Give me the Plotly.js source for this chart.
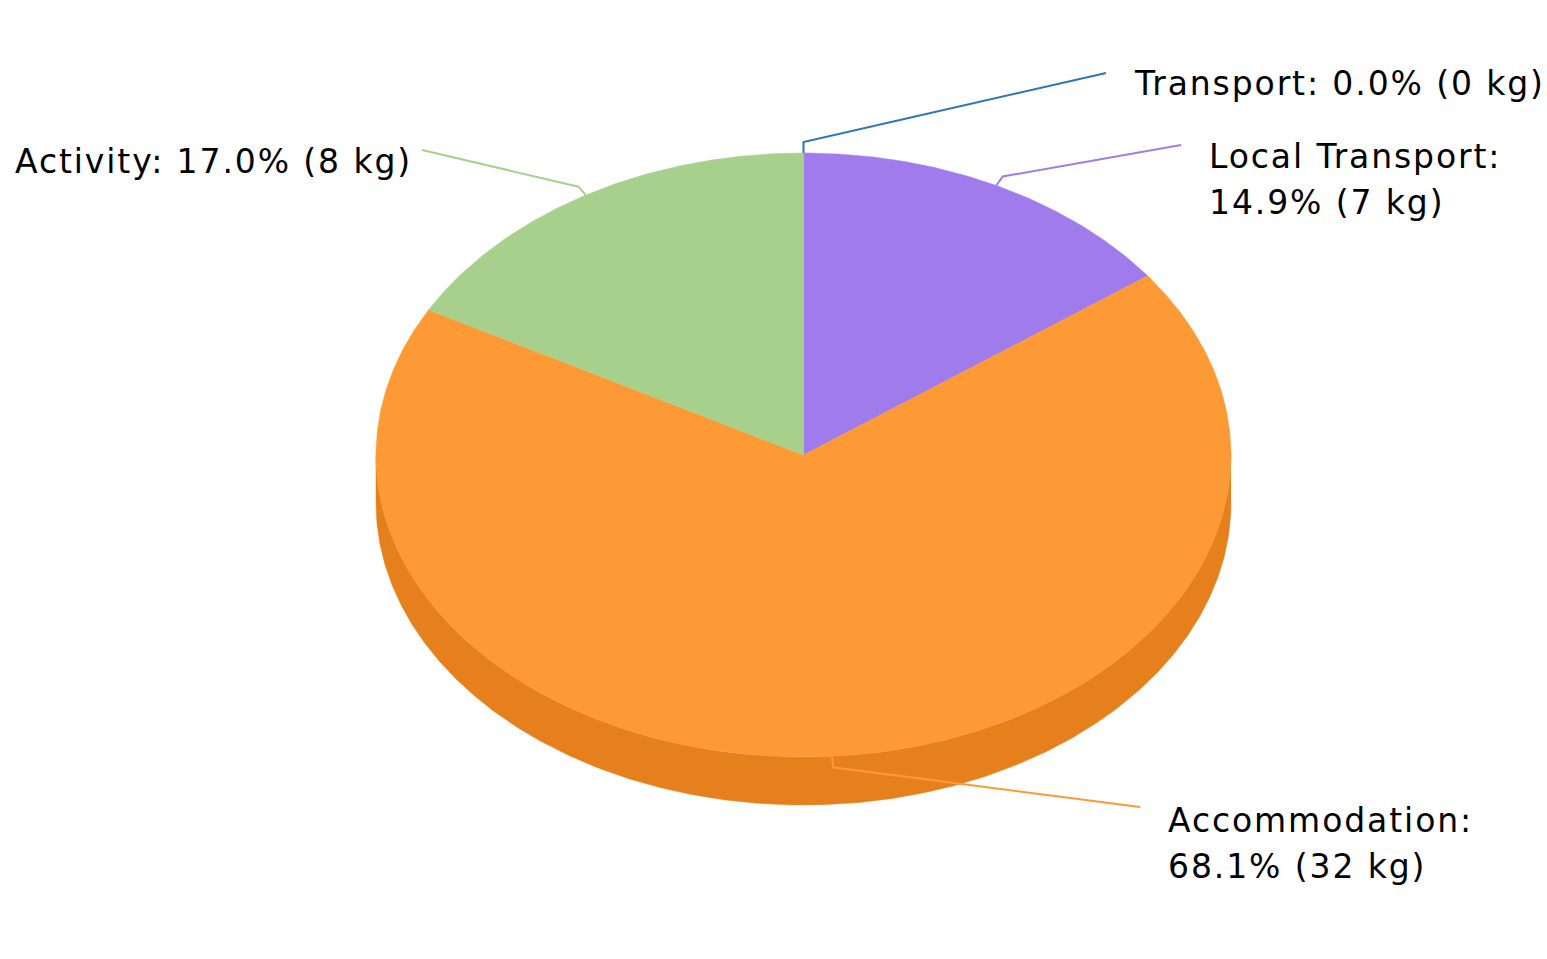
<!DOCTYPE html>
<html><head><meta charset="utf-8">
<script src="https://cdn.plot.ly/plotly-3.0.1.min.js"></script>
<style>html,body{margin:0;padding:0;background:#fff;} .annotation-text{letter-spacing:1.9px;}</style>
</head><body><div id="chart" style="width:1547px;height:959px;"></div>
<script>
// ---- data ----
const categories = ['Transport', 'Local Transport', 'Accommodation', 'Activity'];
const values = [0, 7, 32, 8];
const unit = 'kg';

// ---- style ----
const topColors  = ['#2e75b6', '#9f7bec', '#fe9a35', '#a8d08d'];
const sideColors = ['#2a69a4', '#8c6cd6', '#e5801d', '#94bb7b'];
const cx = 803.5, cy = 455, rx = 427.5, ry = 302, depth = 48;
// label layout (positions only)
const labelLayout = [
  {end: [1106, 73],  text: [1132, 83],  wrap: false},
  {end: [1181, 145], text: [1207, 156], wrap: true},
  {end: [1140, 807], text: [1166, 820], wrap: true},
  {end: [422, 150],  text: [13, 161],   wrap: false}
];
const lineGap = 46;

function pt(angDeg, dy) {
  const a = angDeg * Math.PI / 180;
  return [cx + rx * Math.sin(a), cy - ry * Math.cos(a) + (dy || 0)];
}
function arc(a0, a1, dy) {
  const n = Math.max(2, Math.ceil(Math.abs(a1 - a0) / 0.5));
  const xs = [], ys = [];
  for (let i = 0; i <= n; i++) {
    const p = pt(a0 + (a1 - a0) * i / n, dy);
    xs.push(p[0]); ys.push(p[1]);
  }
  return [xs, ys];
}

const total = values.reduce((s, v) => s + v, 0);
const traces = [];
const annotations = [];
let start = 0;
const ranges = values.map(v => { const a0 = start; start += v / total * 360; return [a0, start]; });

// side walls (front half only)
ranges.forEach((r, i) => {
  const s = Math.max(r[0], 90), e = Math.min(r[1], 270);
  if (e <= s) return;
  const top = arc(s, e, 0), bot = arc(e, s, depth);
  traces.push({type: 'scatter', mode: 'lines', x: top[0].concat(bot[0]), y: top[1].concat(bot[1]),
    fill: 'toself', fillcolor: sideColors[i], line: {width: 0.5, color: sideColors[i]}, hoverinfo: 'skip', showlegend: false});
});
// top faces
ranges.forEach((r, i) => {
  if (r[1] - r[0] <= 0) return;
  const a = arc(r[0], r[1], 0);
  traces.push({type: 'scatter', mode: 'lines', x: [cx].concat(a[0], [cx]), y: [cy].concat(a[1], [cy]),
    fill: 'toself', fillcolor: topColors[i], line: {width: 0.5, color: topColors[i]}, hoverinfo: 'skip', showlegend: false});
});
// connectors & labels
ranges.forEach((r, i) => {
  const mid = (r[0] + r[1]) / 2;
  const p0 = pt(mid, 0);
  const dx = p0[0] - cx, dy = p0[1] - cy, len = Math.hypot(dx, dy);
  const p1 = [p0[0] + dx / len * 11, p0[1] + dy / len * 11];
  const L = labelLayout[i];
  traces.push({type: 'scatter', mode: 'lines', x: [p0[0], p1[0], L.end[0]], y: [p0[1], p1[1], L.end[1]],
    line: {color: topColors[i], width: 2}, hoverinfo: 'skip', showlegend: false});
  const head = categories[i] + ':';
  const tail = (values[i] / total * 100).toFixed(1) + '% (' + values[i] + ' ' + unit + ')';
  const lines = L.wrap ? [head, tail] : [head + ' ' + tail];
  lines.forEach((t, k) => {
    annotations.push({x: L.text[0], y: L.text[1] + k * lineGap, xref: 'x', yref: 'y', text: t,
      showarrow: false, xanchor: 'left', yanchor: 'middle', align: 'left',
      font: {family: 'DejaVu Sans', size: 33, color: '#000'}});
  });
});

const layout = {
  width: 1547, height: 959, margin: {l: 0, r: 0, t: 0, b: 0},
  paper_bgcolor: '#fff', plot_bgcolor: '#fff',
  xaxis: {range: [0, 1547], visible: false, fixedrange: true},
  yaxis: {range: [959, 0], visible: false, fixedrange: true},
  annotations: annotations, showlegend: false
};
Plotly.newPlot('chart', traces, layout, {displayModeBar: false, staticPlot: true});
</script></body></html>
